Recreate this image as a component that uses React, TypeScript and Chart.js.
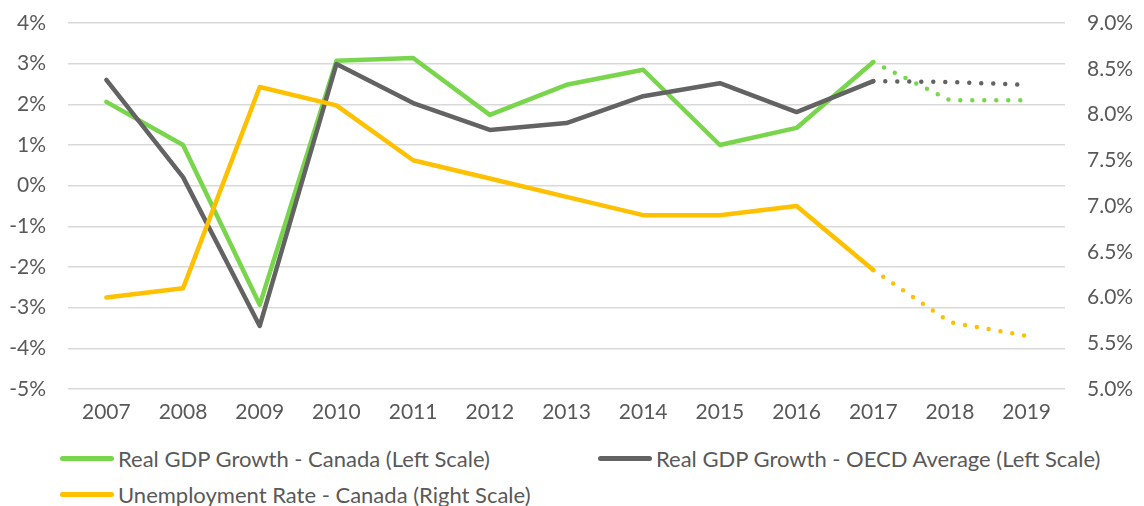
import React, { useEffect, useRef } from "react";
import { Chart, registerables } from "chart.js";

Chart.register(...registerables);

const years = ["2007", "2008", "2009", "2010", "2011", "2012", "2013", "2014", "2015", "2016", "2017", "2018", "2019"];
const gdpCanada = [2.06, 1.0, -2.93, 3.07, 3.14, 1.74, 2.48, 2.85, 1.0, 1.42, 3.04, 2.1, 2.1];
const gdpOecd = [2.6, 0.21, -3.45, 2.99, 2.03, 1.37, 1.54, 2.2, 2.52, 1.81, 2.57, 2.55, 2.48];
const unemployment = [6.0, 6.1, 8.3, 8.1, 7.5, 7.3, 7.1, 6.9, 6.9, 7.0, 6.3, 5.73, 5.58];
const forecastStart = 10;

const GREEN = "#79D64C";
const GRAY = "#636363";
const YELLOW = "#FFC000";
const FONT = "Lato, 'Open Sans', sans-serif";

const legendItems = [
  { label: "Real GDP Growth - Canada (Left Scale)", color: GREEN, x: 60, y: 458 },
  { label: "Real GDP Growth - OECD Average (Left Scale)", color: GRAY, x: 598, y: 458 },
  { label: "Unemployment Rate - Canada (Right Scale)", color: YELLOW, x: 60, y: 494 },
];

export default function App() {
  const ref = useRef<HTMLCanvasElement | null>(null);

  useEffect(() => {
    if (!ref.current) return;
    const dotted = (ctx: any) => (ctx.p0DataIndex >= forecastStart ? [0, 12] : undefined);
    const mk = (label: string, data: number[], color: string, axis: string) => ({
      label,
      data,
      borderColor: color,
      backgroundColor: color,
      borderWidth: 4.5,
      pointRadius: 0,
      borderCapStyle: "round" as const,
      borderJoinStyle: "round" as const,
      yAxisID: axis,
      tension: 0,
      segment: { borderDash: dotted },
    });
    const yFit = (w: number) => (s: any) => {
      s.width = w;
      s.paddingTop = 0;
      s.paddingBottom = 0;
    };
    const chart = new Chart(ref.current, {
      type: "line",
      data: {
        labels: years,
        datasets: [
          mk("Unemployment Rate - Canada (Right Scale)", unemployment, YELLOW, "y1"),
          mk("Real GDP Growth - OECD Average (Left Scale)", gdpOecd, GRAY, "y"),
          mk("Real GDP Growth - Canada (Left Scale)", gdpCanada, GREEN, "y"),
        ],
      },
      options: {
        animation: false,
        responsive: false,
        maintainAspectRatio: false,
        layout: { padding: { top: 23, bottom: 0, left: 0, right: 0 } },
        plugins: { legend: { display: false }, tooltip: { enabled: false } },
        scales: {
          x: {
            offset: true,
            grid: { display: false, drawTicks: false },
            border: { display: false },
            ticks: { color: "#595959", font: { family: FONT, size: 21 }, padding: 11 },
            afterFit: (s: any) => {
              s.height = 40;
              s.paddingLeft = 0;
              s.paddingRight = 0;
            },
          },
          y: {
            position: "left",
            min: -5,
            max: 4,
            ticks: {
              stepSize: 1,
              color: "#595959",
              font: { family: FONT, size: 21 },
              padding: 22,
              callback: (v: any) => `${v}%`,
            },
            grid: { color: "#D9D9D9", lineWidth: 1.5, drawTicks: false },
            border: { display: false },
            afterFit: yFit(68),
          },
          y1: {
            position: "right",
            min: 5,
            max: 9,
            ticks: {
              stepSize: 0.5,
              color: "#595959",
              font: { family: FONT, size: 21 },
              padding: 22,
              callback: (v: any) => `${Number(v).toFixed(1)}%`,
            },
            grid: { display: false, drawTicks: false },
            border: { display: false },
            afterFit: yFit(79),
          },
        },
      },
    });
    return () => chart.destroy();
  }, []);

  return (
    <div style={{ position: "absolute", left: 0, top: 0, width: 1144, height: 506, background: "#fff", overflow: "hidden" }}>
      <canvas ref={ref} width={1144} height={429} style={{ position: "absolute", left: 0, top: 0 }} />
      {legendItems.map((it) => (
        <div
          key={it.label}
          style={{
            position: "absolute",
            left: it.x,
            top: it.y - 15,
            height: 30,
            display: "flex",
            alignItems: "center",
            fontFamily: FONT,
            fontSize: 22,
            color: "#595959",
            whiteSpace: "nowrap",
          }}
        >
          <span style={{ display: "inline-block", width: 54, height: 5, borderRadius: 3, background: it.color, marginRight: 4 }} />
          <span>{it.label}</span>
        </div>
      ))}
    </div>
  );
}
